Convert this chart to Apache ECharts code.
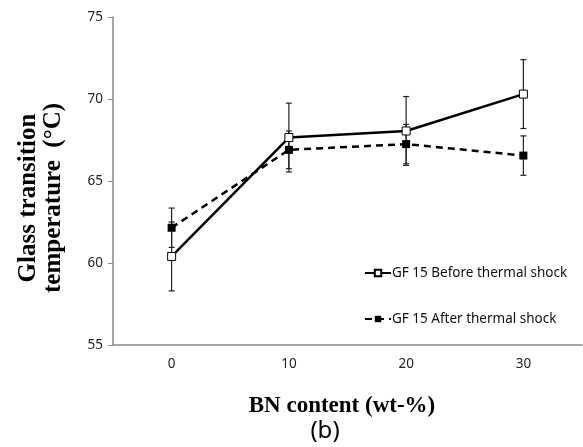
<!DOCTYPE html>
<html>
<head>
<meta charset="utf-8">
<script src="https://cdn.jsdelivr.net/npm/echarts@6/dist/echarts.min.js"></script>
<style>
  html, body { margin: 0; padding: 0; background: #fff; }
  #main { width: 583px; height: 447px; }
</style>
</head>
<body>
<div id="main"></div>
<script>
var myChart = echarts.init(document.getElementById('main'));

// BN content (wt-%)
var categories = ['0', '10', '20', '30'];
// Tg before / after thermal shock
var beforeValues = [60.4, 67.65, 68.05, 70.3];
var beforeErr = [2.1, 2.1, 2.1, 2.1];
var afterValues = [62.15, 66.9, 67.25, 66.55];
var afterErr = [1.2, 1.15, 1.2, 1.2];

function errData(vals, errs) {
  return vals.map(function (v, i) { return [i, v - errs[i], v + errs[i]]; });
}

function renderErr(params, api) {
  var lo = api.coord([api.value(0), api.value(1)]);
  var hi = api.coord([api.value(0), api.value(2)]);
  var w = 3;
  var st = { stroke: '#222', lineWidth: 1.2 };
  return {
    type: 'group',
    children: [
      { type: 'line', shape: { x1: lo[0], y1: lo[1], x2: hi[0], y2: hi[1] }, style: st },
      { type: 'line', shape: { x1: lo[0] - w, y1: lo[1], x2: lo[0] + w, y2: lo[1] }, style: st },
      { type: 'line', shape: { x1: hi[0] - w, y1: hi[1], x2: hi[0] + w, y2: hi[1] }, style: st }
    ]
  };
}

var option = {
  animation: false,
  grid: { left: 113, right: 1, top: 17, bottom: 102 },
  legend: {
    orient: 'vertical',
    left: 364,
    top: 266,
    padding: 0,
    itemWidth: 26,
    itemHeight: 8,
    itemGap: 32,
    textStyle: { fontFamily: 'Noto Sans', fontSize: 13.5, color: '#111', padding: [0, 0, 0, -4] },
    data: ['GF 15 Before thermal shock', 'GF 15 After thermal shock']
  },
  xAxis: {
    type: 'category',
    data: categories,
    boundaryGap: true,
    axisLine: { lineStyle: { color: '#888', width: 1.5 } },
    axisTick: { alignWithLabel: true, length: 4, lineStyle: { color: '#888' } },
    axisLabel: { fontFamily: 'Noto Sans', fontSize: 13.5, color: '#222', margin: 12 },
    splitLine: { show: false }
  },
  yAxis: {
    type: 'value',
    min: 55,
    max: 75,
    interval: 5,
    axisLine: { show: true, lineStyle: { color: '#888', width: 1.5 } },
    axisTick: { show: true, length: 5, lineStyle: { color: '#888' } },
    axisLabel: { fontFamily: 'Noto Sans', fontSize: 13.5, color: '#222', margin: 10 },
    splitLine: { show: false }
  },
  graphic: [
    {
      type: 'text',
      x: 41, y: 198,
      rotation: Math.PI / 2,
      style: {
        text: 'Glass transition\ntemperature  (°C)',
        font: 'bold 25px "Liberation Serif"',
        lineHeight: 25,
        align: 'center',
        verticalAlign: 'middle',
        fill: '#000'
      }
    },
    {
      type: 'text',
      x: 342, y: 406,
      style: {
        text: 'BN content (wt-%)',
        font: 'bold 23px "Liberation Serif"',
        align: 'center',
        verticalAlign: 'middle',
        fill: '#000'
      }
    },
    {
      type: 'text',
      x: 325, y: 431,
      style: {
        text: '(b)',
        font: '24px "Noto Sans"',
        align: 'center',
        verticalAlign: 'middle',
        fill: '#000'
      }
    }
  ],
  series: [
    {
      type: 'custom',
      renderItem: renderErr,
      data: errData(beforeValues, beforeErr),
      z: 1
    },
    {
      type: 'custom',
      renderItem: renderErr,
      data: errData(afterValues, afterErr),
      z: 1
    },
    {
      name: 'GF 15 Before thermal shock',
      type: 'line',
      data: beforeValues,
      symbol: 'rect',
      symbolSize: 8,
      lineStyle: { color: '#000', width: 2.5 },
      itemStyle: { color: '#fff', borderColor: '#000', borderWidth: 1 },
      z: 3
    },
    {
      name: 'GF 15 After thermal shock',
      type: 'line',
      data: afterValues,
      symbol: 'rect',
      symbolSize: 8,
      lineStyle: { color: '#000', width: 2.5, type: [7, 5] },
      itemStyle: { color: '#000', borderColor: '#000', borderWidth: 0 },
      z: 2
    }
  ]
};
myChart.setOption(option);
</script>
</body>
</html>
